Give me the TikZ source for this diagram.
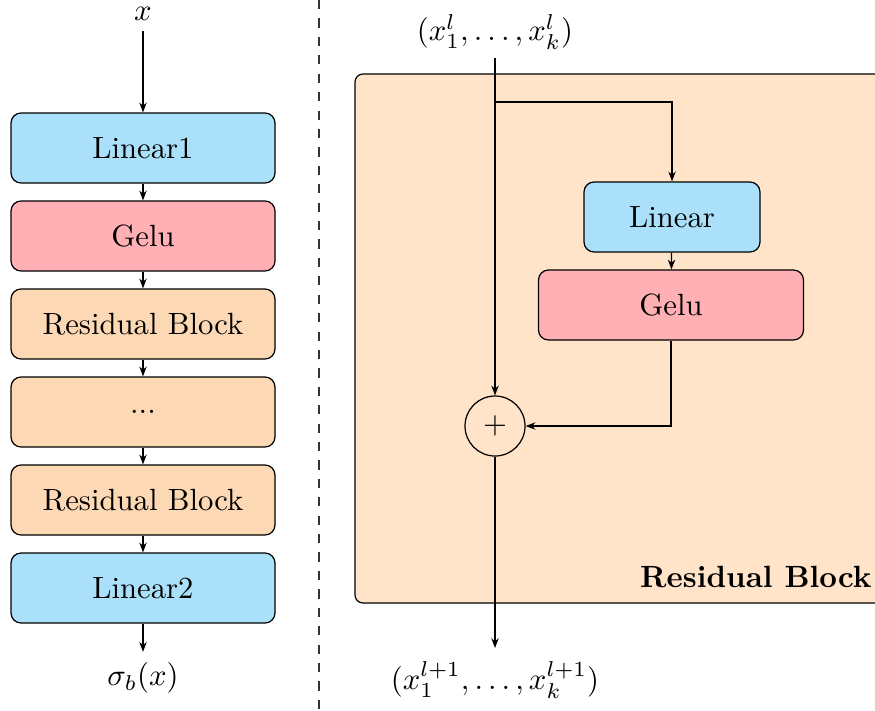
\documentclass[tikz,border=0pt]{standalone}
\usetikzlibrary{arrows.meta,positioning}
\definecolor{linblue}{RGB}{171,224,250}
\definecolor{gelupink}{RGB}{255,176,180}
\definecolor{respeach}{RGB}{253,216,180}
\definecolor{blockbg}{RGB}{255,228,202}
\newlength{\px}
\setlength{\px}{0.3258pt}
\tikzset{
  x=\px, y=-\px,
  layer/.style={draw, rounded corners=10\px, minimum height=70\px, inner sep=0pt, line width=0.4pt},
  arr/.style={-{Stealth[length=3.2pt,width=2.4pt]}, line width=0.4pt},
  ln/.style={line width=0.4pt},
}
\begin{document}
\begin{tikzpicture}
\useasboundingbox (0,0) rectangle (875,710);

% left: network stack
\node (x) at (143,14) {$x$};
\node[layer, fill=linblue,   minimum width=264\px] (lin1) at (143,148) {Linear1};
\node[layer, fill=gelupink,  minimum width=264\px] (gelu1) at (143,236) {Gelu};
\node[layer, fill=respeach,  minimum width=264\px] (res1) at (143,324) {Residual Block};
\node[layer, fill=respeach,  minimum width=264\px] (dots) at (143,412) {...};
\node[layer, fill=respeach,  minimum width=264\px] (res2) at (143,500) {Residual Block};
\node[layer, fill=linblue,   minimum width=264\px] (lin2) at (143,588) {Linear2};
\node (out) at (143,678) {$\sigma_b(x)$};

\draw[arr] (x) -- (lin1);
\draw[arr] (lin1) -- (gelu1);
\draw[arr] (gelu1) -- (res1);
\draw[arr] (res1) -- (dots);
\draw[arr] (dots) -- (res2);
\draw[arr] (res2) -- (lin2);
\draw[arr] (lin2) -- (out);

% separator
\draw[dashed, line width=0.35pt, black!80] (319,0) -- (319,710);

% right: residual block detail
\fill[blockbg, rounded corners=8\px] (355,74) rectangle (895,603);
\draw[ln, rounded corners=8\px] (895,603) -- (355,603) -- (355,74) -- (895,74);
\node[anchor=base east, font=\bfseries, inner sep=0pt] (title) at (872,587) {Residual Block};

\node (xin) at (495,32) {$(x_1^l,\ldots,x_k^l)$};
\coordinate (split) at (495,102);
\node[layer, fill=linblue,  minimum width=176\px] (lin) at (672,217) {Linear};
\node[layer, fill=gelupink, minimum width=265\px] (gelu) at (671,305) {Gelu};
\node[draw, circle, minimum size=60\px, inner sep=0pt, ln] (plus) at (495,426) {$+$};
\node (xout) at (495,680) {$(x_1^{l+1},\ldots,x_k^{l+1})$};

\draw[arr] (495,58) -- (plus);
\draw[arr] (split) -| (lin);
\draw[arr] (lin) -- (gelu);
\draw[arr] (gelu.south) |- (plus.east);
\draw[arr] (plus) -- (495,648);
\end{tikzpicture}
\end{document}
